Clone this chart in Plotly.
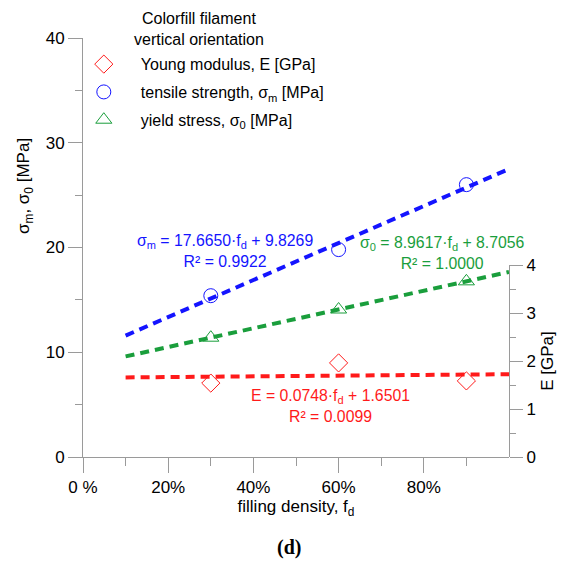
import plotly.graph_objects as go

# ---- data ----
fd = [0.3, 0.6, 0.9]
sigma_m = [15.4, 19.8, 26.0]          # tensile strength [MPa]
sigma_0 = [11.39, 14.08, 16.77]       # yield stress [MPa]
E_mod = [1.54, 1.96, 1.585]           # Young modulus [GPa]

fit_range = [0.1, 1.0]
fit_sm = (17.6650, 9.8269)
fit_s0 = (8.9617, 8.7056)
fit_E = (0.0748, 1.6501)

x_tickvals = [0, 0.2, 0.4, 0.6, 0.8]
x_ticktext = ["0 %", "20%", "40%", "60%", "80%"]

RED = "#ff1a1a"
BLUE = "#1414ff"
GREEN = "#1a9e3c"
FONT = "Liberation Sans"
AX = "#9a9a9a"

def line(c):
    a, b = c
    return [a * f + b for f in fit_range]

fig = go.Figure()

# fitted lines
fig.add_trace(go.Scatter(x=fit_range, y=line(fit_sm), mode="lines", showlegend=False,
                         line=dict(color=BLUE, width=4, dash="9px,6px"), hoverinfo="skip"))
fig.add_trace(go.Scatter(x=fit_range, y=line(fit_s0), mode="lines", showlegend=False,
                         line=dict(color=GREEN, width=4, dash="9px,6px"), hoverinfo="skip"))
fig.add_trace(go.Scatter(x=fit_range, y=line(fit_E), mode="lines", showlegend=False, yaxis="y2",
                         line=dict(color=RED, width=4, dash="9px,6px"), hoverinfo="skip"))

# points
fig.add_trace(go.Scatter(x=fd, y=E_mod, mode="markers", yaxis="y2", legendgroup="a",
                         name="Young modulus, E [GPa]",
                         marker=dict(symbol="diamond-open", size=14, color=RED, line=dict(width=1))))
fig.add_trace(go.Scatter(x=fd, y=sigma_m, mode="markers", legendgroup="b",
                         name="tensile strength, σ<sub>m</sub> [MPa]",
                         marker=dict(symbol="circle-open", size=14, color=BLUE, line=dict(width=1))))
fig.add_trace(go.Scatter(x=fd, y=sigma_0, mode="markers", legendgroup="c",
                         name="yield stress, σ<sub>0</sub> [MPa]",
                         marker=dict(symbol="triangle-up-open", size=14, color=GREEN, line=dict(width=1))))

tickfont = dict(family=FONT, size=17, color="black")

fig.update_layout(
    width=579, height=564,
    margin=dict(l=83, r=70, t=38, b=107),
    paper_bgcolor="white", plot_bgcolor="rgba(0,0,0,0)",
    font=dict(family=FONT, size=16, color="black"),
    xaxis=dict(range=[0, 1], showgrid=False, zeroline=False, showline=True, linecolor=AX, linewidth=1,
               ticks="outside", ticklen=15, tickcolor=AX, tickvals=x_tickvals, ticktext=x_ticktext,
               tickfont=tickfont,
               minor=dict(tickvals=[0.1, 0.3, 0.5, 0.7, 0.9], ticks="outside", ticklen=8, tickcolor=AX),
               title=dict(text="filling density, f<sub>d</sub>", font=dict(family=FONT, size=17), standoff=3)),
    yaxis=dict(range=[0, 40], showgrid=False, zeroline=False, showline=True, linecolor=AX, linewidth=1,
               ticks="outside", ticklen=14, tickcolor=AX, tickvals=[0, 10, 20, 30, 40], tickfont=tickfont,
               minor=dict(tickvals=[5, 15, 25, 35], ticks="outside", ticklen=7, tickcolor=AX)),
    yaxis2=dict(domain=[0, 192 / 419], range=[0, 4], anchor="x", side="right", showgrid=False,
                zeroline=False, showline=True, linecolor=AX, linewidth=1,
                ticks="outside", ticklen=13, tickcolor=AX, tickvals=[0, 1, 2, 3, 4], tickfont=tickfont,
                minor=dict(tickvals=[0.5, 1.5, 2.5, 3.5], ticks="outside", ticklen=6, tickcolor=AX),
                title=dict(text="E [GPa]", font=dict(family=FONT, size=17), standoff=6)),
    legend=dict(x=-0.038, y=0.978, xanchor="left", yanchor="top", bgcolor="rgba(0,0,0,0)",
                font=dict(family=FONT, size=16), tracegroupgap=4, itemwidth=64),
    showlegend=True,
)

annos = [
    dict(x=25, y=186, text="σ<sub>m</sub>, σ<sub>0</sub> [MPa]", textangle=-90, font=dict(size=17)),
    dict(x=199, y=29, text="Colorfill filament<br>vertical orientation", font=dict(size=16)),
    dict(x=225, y=251, text="σ<sub>m</sub> = 17.6650·f<sub>d</sub> + 9.8269<br>R² = 0.9922",
         font=dict(size=15.8, color=BLUE)),
    dict(x=442, y=253, text="σ<sub>0</sub> = 8.9617·f<sub>d</sub> + 8.7056<br>R² = 1.0000",
         font=dict(size=15.8, color=GREEN)),
    dict(x=330, y=406, text="E = 0.0748·f<sub>d</sub> + 1.6501<br>R² = 0.0099",
         font=dict(size=15.8, color=RED)),
    dict(x=289, y=547, text="<b>(d)</b>", font=dict(size=20, family="Liberation Serif")),
]
for a in annos:
    # pixel positions converted to paper coordinates
    a["xref"] = "paper"; a["yref"] = "paper"
    a["x"] = (a["x"] - 83) / 426
    a["y"] = (457 - a["y"]) / 419
    a["xanchor"] = "center"; a["yanchor"] = "middle"
    a["showarrow"] = False
    a["font"].setdefault("family", FONT)
    fig.add_annotation(**a)

fig.write_html("out.html", config={"displayModeBar": False},
               post_script="document.body.style.margin='0';")
